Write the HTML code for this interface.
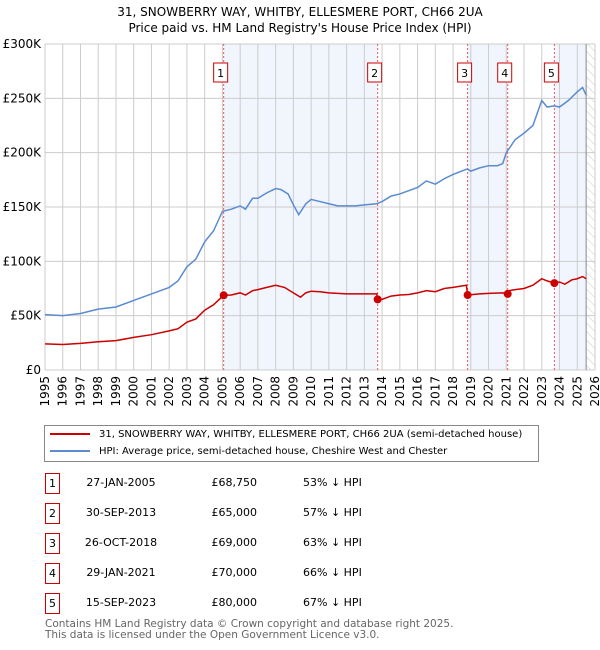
<!DOCTYPE html>
<html><head><meta charset="utf-8"><style>
body{margin:0;width:600px;height:650px;background:#fff;font-family:"DejaVu Sans","Liberation Sans",sans-serif;overflow:hidden;position:relative}
.t{position:absolute;white-space:nowrap;color:#000}
.box{position:absolute;border:1px solid #c00;width:13px;height:19px;text-align:center;line-height:19px;font-size:11px;background:#fff}
</style></head><body>
<div class="t" style="left:0;width:600px;text-align:center;top:4px;font-size:12px;line-height:16px">31, SNOWBERRY WAY, WHITBY, ELLESMERE PORT, CH66 2UA<br>Price paid vs. HM Land Registry's House Price Index (HPI)</div>
<svg id="chart" width="600" height="420" style="position:absolute;left:0;top:0" font-family="DejaVu Sans, Liberation Sans, sans-serif"></svg>

<div style="position:absolute;left:44px;top:425px;width:493px;height:35px;border:1px solid #888">
 <div style="position:absolute;left:5px;top:3px;font-size:10px;white-space:nowrap"><span style="display:inline-block;width:40px;height:2px;background:#c00;vertical-align:middle;margin-right:9px"></span>31, SNOWBERRY WAY, WHITBY, ELLESMERE PORT, CH66 2UA (semi-detached house)</div>
 <div style="position:absolute;left:5px;top:20px;font-size:10px;white-space:nowrap"><span style="display:inline-block;width:40px;height:2px;background:#5b8bd0;vertical-align:middle;margin-right:9px"></span>HPI: Average price, semi-detached house, Cheshire West and Chester</div>
</div>
<div id="tbl"></div>
<div class="t" style="left:45px;top:619px;font-size:10.5px;line-height:11px;color:#666">Contains HM Land Registry data © Crown copyright and database right 2025.<br>This data is licensed under the Open Government Licence v3.0.</div>

<script>
const hpiYears=[1995,1996,1997,1998,1999,2000,2001,2002,2002.5,2003,2003.5,2004,2004.5,2005,2005.5,2006,2006.3,2006.7,2007,2007.5,2008,2008.3,2008.7,2009,2009.3,2009.7,2010,2010.5,2011,2011.5,2012,2012.5,2013,2013.7,2014,2014.5,2015,2015.5,2016,2016.5,2017,2017.5,2018,2018.8,2019,2019.5,2020,2020.5,2020.8,2021,2021.5,2022,2022.5,2023,2023.3,2023.7,2024,2024.5,2025,2025.3,2025.5];
const hpiValues=[51,50,52,56,58,64,70,76,82,95,102,118,128,146,148,151,148,158,158,163,167,166,162,152,143,153,157,155,153,151,151,151,152,153,155,160,162,165,168,174,171,176,180,185,183,186,188,188,190,200,212,218,225,248,242,243,242,248,256,260,253];
const redYears=[1995,1996,1997,1998,1999,2000,2001,2002,2002.5,2003,2003.5,2004,2004.5,2005.07,2005.5,2006,2006.3,2006.7,2007,2007.5,2008,2008.5,2009,2009.4,2009.7,2010,2010.5,2011,2011.5,2012,2012.5,2013,2013.7,2013.75,2014,2014.5,2015,2015.5,2016,2016.5,2017,2017.5,2018,2018.75,2018.82,2019.5,2020,2020.8,2021.08,2021.15,2021.5,2022,2022.5,2023,2023.3,2023.71,2024,2024.3,2024.7,2025,2025.3,2025.5];
const redValues=[24,23.5,24.5,26,27,30,32.5,36,38,44,47,55,60,68.75,69,71,69,73,74,76,78,76,71,67,71,72.5,72,71,70.5,70,70,70,70,65,65,68,69,69.5,71,73,72,75,76,78,69,70,70.5,71,70,73,74,75,78,84,82,80,81,79,83,84,86,84];
const saleYears=[2005.07,2013.75,2018.82,2021.08,2023.71];
const salePrices=[68750,65000,69000,70000,80000];
const saleLabels=["1","2","3","4","5"];
const saleDates=["27-JAN-2005","30-SEP-2013","26-OCT-2018","29-JAN-2021","15-SEP-2023"];
const salePct=["53% ↓ HPI","57% ↓ HPI","63% ↓ HPI","66% ↓ HPI","67% ↓ HPI"];
const yTicks=[0,50,100,150,200,250,300];
const yTickLabels=["£0","£50K","£100K","£150K","£200K","£250K","£300K"];
const xTicks=[1995,1996,1997,1998,1999,2000,2001,2002,2003,2004,2005,2006,2007,2008,2009,2010,2011,2012,2013,2014,2015,2016,2017,2018,2019,2020,2021,2022,2023,2024,2025,2026];

const X0=45,X1=595,Y0=370,Y1=44,yearMin=1995,yearMax=2026,dataEnd=2025.5;
const x=v=>X0+(v-yearMin)/(yearMax-yearMin)*(X1-X0);
const y=k=>Y0-k/300*(Y0-Y1);
const svg=document.getElementById('chart');
const NS='http://www.w3.org/2000/svg';
function mk(tag,at,parent){const e=document.createElementNS(NS,tag);for(const k in at)e.setAttribute(k,at[k]);(parent||svg).appendChild(e);return e;}
const bandEdges=[saleYears[0],saleYears[1],saleYears[2],saleYears[3],saleYears[4],dataEnd];
for(let i=0;i<bandEdges.length-1;i+=2){
 const r=mk('rect',{x:x(bandEdges[i]),y:Y1,width:x(bandEdges[i+1])-x(bandEdges[i]),height:Y0-Y1,fill:'#eef3fc',opacity:0.8});
 
 
}
const defs=mk('defs',{});
const pat=mk('pattern',{id:'h',width:6,height:6,patternUnits:'userSpaceOnUse',patternTransform:'rotate(-45)'},defs);
mk('line',{x1:0,y1:0,x2:0,y2:6,stroke:'#ccc','stroke-width':1},pat);
const hr=mk('rect',{x:x(dataEnd),y:Y1,width:X1-x(dataEnd),height:Y0-Y1,fill:'url(#h)'});


xTicks.forEach(t=>{
 const l=mk('line',{x1:x(t),x2:x(t),y1:Y1,y2:Y0,stroke:'#ccc','stroke-width':1});
 
 
 const tx=mk('text',{x:0,y:0,'font-size':12,'text-anchor':'end',transform:`translate(${x(t)+4},${Y0+6}) rotate(-90)`});
 tx.textContent=t;
 
 
});
yTicks.forEach((t,i)=>{
 const l=mk('line',{x1:X0,x2:X1,y1:y(t),y2:y(t),stroke:'#ccc','stroke-width':1});
 
 
 const tx=mk('text',{x:41,y:y(t)+4,'font-size':12,'text-anchor':'end'});
 tx.textContent=yTickLabels[i];
 
 
});
const vl=mk('line',{x1:x(dataEnd),x2:x(dataEnd),y1:Y1,y2:Y0,stroke:'#888','stroke-width':1});


saleYears.forEach((s,i)=>{
 const l=mk('line',{x1:x(s),x2:x(s),y1:Y1,y2:Y0,stroke:'#e55','stroke-width':1,'stroke-dasharray':'2,2'});
 
 
 const g=mk('g',{});
 
 
 mk('rect',{x:x(s)-10,y:63,width:14,height:19,fill:'#fff',stroke:'#c00'},g);
 const t=mk('text',{x:x(s)-3,y:77,'font-size':11,'text-anchor':'middle'},g);t.textContent=saleLabels[i];
});
function line(xs,vs,col,name){
 const p=mk('polyline',{points:xs.map((v,i)=>x(v)+','+y(vs[i])).join(' '),fill:'none',stroke:col,'stroke-width':1.5});
 
 
}
line(hpiYears,hpiValues,'#5b8bd0','hpi-line');
line(redYears,redValues,'#c00','price-paid-line');
saleYears.forEach((s,i)=>{
 const c=mk('circle',{cx:x(s),cy:y(salePrices[i]/1000),r:4,fill:'#c00'});
 
 
});
const tbl=document.getElementById('tbl');
saleLabels.forEach((lab,i)=>{
 const top=476+i*30;
 const row=document.createElement('div');
 
 
 row.innerHTML=`<div class="box" style="left:45px;top:${top-3}px">${lab}</div>
 <div class="t" style="left:80px;width:82px;text-align:center;top:${top}px;font-size:11px">${saleDates[i]}</div>
 <div class="t" style="left:180px;width:77px;text-align:right;top:${top}px;font-size:11px">£${salePrices[i].toLocaleString('en-GB')}</div>
 <div class="t" style="left:303px;top:${top}px;font-size:11px">${salePct[i]}</div>`;
 tbl.appendChild(row);
});
</script>
</body></html>
